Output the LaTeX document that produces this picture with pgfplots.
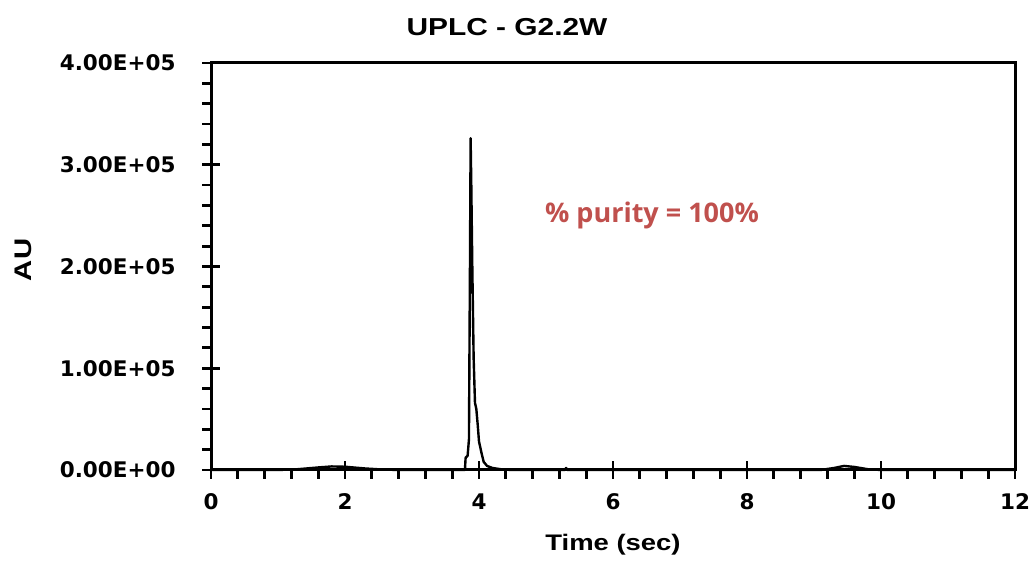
\documentclass[border=0pt]{standalone}
\usepackage{fontspec}
\setmainfont{Liberation Sans}
\newfontfamily\arialw{Liberation Sans}[FakeStretch=1.22]
\newfontfamily\tickf{DejaVu Sans}
\newfontfamily\purf{Open Sans}
\usepackage{pgfplots}
\pgfplotsset{compat=1.18}
\definecolor{purred}{RGB}{192,80,77}
\begin{document}
\begin{tikzpicture}
\useasboundingbox (0,0) rectangle (1034pt,561pt);
\begin{axis}[
  at={(211pt,91pt)}, anchor=south west,
  scale only axis, width=804pt, height=407pt,
  xmin=0, xmax=12, ymin=0, ymax=400000,
  xtick={0,2,4,6,8,10,12},
  xticklabels={0,2,4,6,8,10,12},
  ytick={0,100000,200000,300000,400000},
  yticklabels={0.00E+00,1.00E+05,2.00E+05,3.00E+05,4.00E+05},
  scaled x ticks=false, scaled y ticks=false,
  minor x tick num=4, minor y tick num=4,
  xtick pos=bottom, ytick pos=left,
  tick align=center,
  major tick length=18pt, minor tick length=9pt,
  minor x tick style={yshift=-4.5pt},
  minor y tick style={xshift=-4.5pt},
  axis line style={line width=3pt},
  tick style={line width=2.8pt, black},
  ticklabel style={font=\tickf\bfseries\fontsize{21.5}{23}\selectfont},
  xticklabel style={yshift=-11pt},
  yticklabel style={xshift=-23pt},
  clip=false,
]
\addplot[black, line width=2.4pt, line join=round] coordinates {
(0,0) (1.0,0) (1.3,800) (1.6,2500) (1.8,3500) (2.0,3200) (2.3,1500) (2.6,300) (2.9,0)
(3.79,0) (3.80,12000) (3.83,14000) (3.85,30000) (3.865,200000) (3.875,326000)
(3.885,280000) (3.90,200000) (3.92,110000) (3.94,66000) (3.96,60000) (3.98,45000)
(4.00,28000) (4.04,16000) (4.07,8000) (4.12,4000) (4.2,2000) (4.35,500) (4.5,0)
(5.28,0) (5.30,2000) (5.32,0) (9.1,0) (9.3,2000) (9.45,4000) (9.6,3000) (9.8,800) (10,0) (12,0)
};
\end{axis}
\node[font=\arialw\bfseries\fontsize{24.5}{28}\selectfont] at (507pt,534pt) {UPLC - G2.2W};
\node[font=\arialw\bfseries\fontsize{22.5}{26}\selectfont] at (613pt,16pt) {Time (sec)};
\node[font=\arialw\bfseries\fontsize{24}{26}\selectfont, rotate=90] at (23pt,301pt) {AU};
\node[font=\purf\bfseries\fontsize{27}{30}\selectfont, text=purred] at (652pt,346pt) {\% purity = 100\%};
\end{tikzpicture}
\end{document}
